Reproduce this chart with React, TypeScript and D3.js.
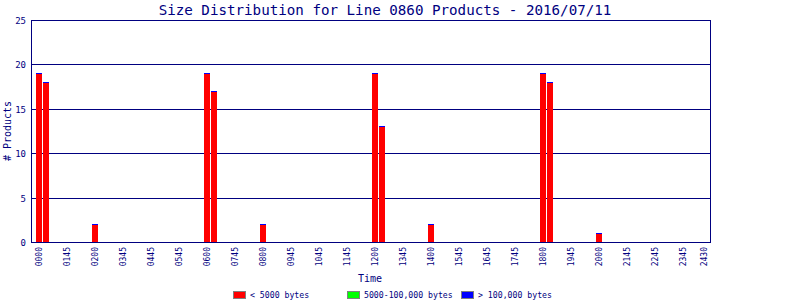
import React from "react";
import * as d3 from "d3";

const slots: number[] = [0, 1, 8, 24, 25, 32, 48, 49, 56, 72, 73, 80];
const smallValues: number[] = [19, 18, 2, 19, 17, 2, 19, 13, 2, 19, 18, 1];
const mediumValues: number[] = [0, 0, 0, 0, 0, 0, 0, 0, 0, 0, 0, 0];
const largeValues: number[] = [0, 0, 0, 0, 0, 0, 0, 0, 0, 0, 0, 0];

const tickSlots: number[] = [0, 4, 8, 12, 16, 20, 24, 28, 32, 36, 40, 44, 48, 52, 56, 60, 64, 68, 72, 76, 80, 84, 88, 92, 95];
const tickLabels: string[] = ["0000", "0145", "0200", "0345", "0445", "0545", "0600", "0745", "0800", "0945", "1045", "1145", "1200", "1345", "1400", "1545", "1645", "1745", "1800", "1945", "2000", "2145", "2245", "2345", "2430"];
const yTicks: number[] = [0, 5, 10, 15, 20, 25];

const seriesNames: string[] = ["< 5000 bytes", "5000-100,000 bytes", "> 100,000 bytes"];
const seriesColors: string[] = ["#ff0000", "#00ff00", "#0000ff"];

const NAVY = "#000080";
const MONO = "'DejaVu Sans Mono', 'Liberation Mono', monospace";

export default function App() {
  const W = 800, H = 300;
  const left = 31, right = 710, top = 19.5, bottom = 242;
  const x = d3.scaleLinear().domain([0, 96]).range([36, 708]);
  const y = d3.scaleLinear().domain([0, 25]).range([bottom, top]);
  const barW = 6;

  const legendX = [233, 347, 461];

  return (
    <svg width={W} height={H} style={{ position: "absolute", left: 0, top: 0, background: "#fff" }} fontFamily={MONO}>
      <rect x={0} y={0} width={W} height={H} fill="#fff" />
      <text x={385} y={15} textAnchor="middle" fontSize={14.2} fill={NAVY}>
        Size Distribution for Line 0860 Products - 2016/07/11
      </text>

      {/* gridlines */}
      {yTicks.filter(t => t > 0).map(t => (
        <line key={"g" + t} x1={left} x2={right} y1={Math.round(y(t)) + 0.5} y2={Math.round(y(t)) + 0.5} stroke={NAVY} strokeWidth={1} />
      ))}
      {yTicks.map(t => (
        <text key={"yt" + t} x={26} y={Math.round(y(t)) + 3.5} textAnchor="end" fontSize={9} fill={NAVY}>{t}</text>
      ))}

      {/* bars */}
      {slots.map((s, i) => {
        const v0 = smallValues[i];
        const v1 = v0 + mediumValues[i];
        const v2 = v1 + largeValues[i];
        return (
          <g key={"b" + s} shapeRendering="crispEdges">
            <rect x={x(s)} width={barW} y={y(v0) + 1} height={y(0) - y(v0) - 1} fill={seriesColors[0]} />
            {v1 > v0 && <rect x={x(s)} width={barW} y={y(v1)} height={y(v0) - y(v1)} fill={seriesColors[1]} />}
            <rect x={x(s)} width={barW} y={y(v2)} height={Math.max(1, y(v1) - y(v2))} fill={seriesColors[2]} />
          </g>
        );
      })}

      {/* frame */}
      <rect x={left + 0.5} y={Math.round(top) + 0.5} width={right - left} height={bottom - Math.round(top)} fill="none" stroke={NAVY} strokeWidth={1} />

      {/* x tick labels */}
      {tickSlots.map((s, i) => {
        const cx = x(s) + 3 + 3;
        return (
          <text key={"xt" + i} transform={`translate(${cx},247) rotate(-90)`} textAnchor="end" fontSize={8} fill={NAVY}>
            {tickLabels[i]}
          </text>
        );
      })}

      <text x={370} y={282} textAnchor="middle" fontSize={10} fill={NAVY}>Time</text>
      <text transform="translate(11,131) rotate(-90)" textAnchor="middle" fontSize={10} fill={NAVY}># Products</text>

      {/* legend */}
      {seriesNames.map((n, i) => (
        <g key={"l" + i}>
          <rect x={legendX[i] + 0.5} y={291.5} width={12} height={7} fill={seriesColors[i]} stroke="#808080" strokeWidth={1} />
          <text x={legendX[i] + 17} y={298} fontSize={8.2} fill={NAVY}>{n}</text>
        </g>
      ))}
    </svg>
  );
}
